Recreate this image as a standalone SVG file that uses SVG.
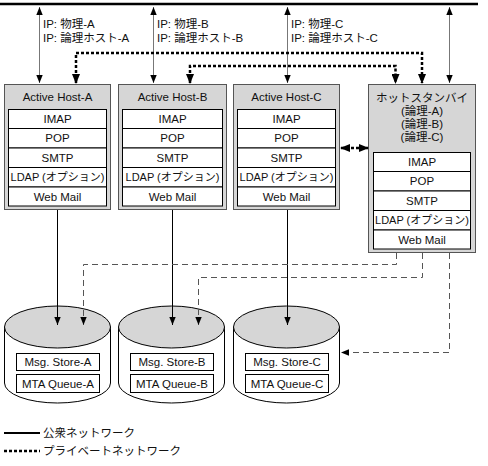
<svg xmlns="http://www.w3.org/2000/svg" width="488" height="466" viewBox="0 0 488 466">
<defs>
<marker id="ah" viewBox="0 0 10 8" refX="10" refY="4" markerWidth="8" markerHeight="6.4" markerUnits="userSpaceOnUse" orient="auto-start-reverse"><path d="M0,0 L10,4 L0,8 Z" fill="#000"/></marker>
<marker id="ahd" viewBox="0 0 10 8" refX="9" refY="4" markerWidth="10" markerHeight="8" markerUnits="userSpaceOnUse" orient="auto-start-reverse"><path d="M0,0 L10,4 L0,8 Z" fill="#000"/></marker>
</defs>
<style>
text{font-family:"Liberation Sans","Noto Sans CJK JP",Arial,sans-serif;font-size:11.5px;fill:#111}
.c{text-anchor:middle}
.l{font-size:11px}
.host{fill:#d6d6d6;stroke:#555;stroke-width:1}
.row{fill:#fff;stroke:#000;stroke-width:1}
.ip{stroke:#777;stroke-width:1;fill:none}
.priv{stroke:#000;stroke-width:2.5;stroke-dasharray:3,2;fill:none}
.sol{stroke:#000;stroke-width:1;fill:none}
.dash{stroke:#555;stroke-width:1;stroke-dasharray:6,4;fill:none}
.cylb{fill:#fff;stroke:#000;stroke-width:1}
.cylt{fill:#d6d6d6;stroke:#000;stroke-width:1}
</style>
<rect width="488" height="466" fill="#fff"/>
<line x1="0" y1="4" x2="478" y2="4" stroke="#000" stroke-width="2.5"/>
<g id="ip-labels">
<text x="43" y="28">IP: 物理-A</text><text x="43" y="42">IP: 論理ホスト-A</text>
<text x="157" y="28">IP: 物理-B</text><text x="157" y="42">IP: 論理ホスト-B</text>
<text x="291" y="28">IP: 物理-C</text><text x="291" y="42">IP: 論理ホスト-C</text>
</g>
<g id="host-a">
<rect class="host" x="4.5" y="84.5" width="106" height="125"/>
<text class="c" x="57.5" y="101">Active Host-A</text>
<rect class="row" x="8.5" y="109.5" width="98" height="19"/><text class="c" x="57.5" y="123">IMAP</text>
<rect class="row" x="8.5" y="128.5" width="98" height="19.5"/><text class="c" x="57.5" y="142">POP</text>
<rect class="row" x="8.5" y="148" width="98" height="19.5"/><text class="c" x="57.5" y="162">SMTP</text>
<rect class="row" x="8.5" y="167.5" width="98" height="19.5"/><text class="c l" x="57.5" y="181">LDAP (オプション)</text>
<rect class="row" x="8.5" y="187" width="98" height="19"/><text class="c" x="57.5" y="200.5">Web Mail</text>
</g>
<g id="host-b">
<rect class="host" x="118.5" y="84.5" width="108" height="125"/>
<text class="c" x="172.5" y="101">Active Host-B</text>
<rect class="row" x="122.5" y="109.5" width="100" height="19"/><text class="c" x="172.5" y="123">IMAP</text>
<rect class="row" x="122.5" y="128.5" width="100" height="19.5"/><text class="c" x="172.5" y="142">POP</text>
<rect class="row" x="122.5" y="148" width="100" height="19.5"/><text class="c" x="172.5" y="162">SMTP</text>
<rect class="row" x="122.5" y="167.5" width="100" height="19.5"/><text class="c l" x="172.5" y="181">LDAP (オプション)</text>
<rect class="row" x="122.5" y="187" width="100" height="19"/><text class="c" x="172.5" y="200.5">Web Mail</text>
</g>
<g id="host-c">
<rect class="host" x="233.5" y="84.5" width="106" height="125"/>
<text class="c" x="286.5" y="101">Active Host-C</text>
<rect class="row" x="237.5" y="109.5" width="98" height="19"/><text class="c" x="286.5" y="123">IMAP</text>
<rect class="row" x="237.5" y="128.5" width="98" height="19.5"/><text class="c" x="286.5" y="142">POP</text>
<rect class="row" x="237.5" y="148" width="98" height="19.5"/><text class="c" x="286.5" y="162">SMTP</text>
<rect class="row" x="237.5" y="167.5" width="98" height="19.5"/><text class="c l" x="286.5" y="181">LDAP (オプション)</text>
<rect class="row" x="237.5" y="187" width="98" height="19"/><text class="c" x="286.5" y="200.5">Web Mail</text>
</g>
<g id="standby">
<rect class="host" x="368.5" y="84.5" width="107" height="168"/>
<text class="c" x="422" y="102">ホットスタンバイ</text>
<text class="c" x="422" y="115">(論理-A)</text>
<text class="c" x="422" y="128">(論理-B)</text>
<text class="c" x="422" y="141">(論理-C)</text>
<rect class="row" x="373.5" y="152.5" width="97" height="19"/><text class="c" x="422" y="166">IMAP</text>
<rect class="row" x="373.5" y="171.5" width="97" height="19.5"/><text class="c" x="422" y="185">POP</text>
<rect class="row" x="373.5" y="191" width="97" height="19.5"/><text class="c" x="422" y="205">SMTP</text>
<rect class="row" x="373.5" y="210.5" width="97" height="19.5"/><text class="c l" x="422" y="224">LDAP (オプション)</text>
<rect class="row" x="373.5" y="230" width="97" height="19"/><text class="c" x="422" y="243.5">Web Mail</text>
</g>
<g id="store-a">
<path class="cylb" d="M4.5,327 V383 A53,20 0 0 0 110.5,383 V327"/>
<ellipse class="cylt" cx="57.5" cy="327" rx="53" ry="21"/>
<rect class="row" x="16.5" y="353.5" width="83" height="17"/><text class="c" x="58" y="366">Msg. Store-A</text>
<rect class="row" x="16.5" y="374.5" width="83" height="18"/><text class="c" x="58" y="387.5">MTA Queue-A</text>
</g>
<g id="store-b">
<path class="cylb" d="M118.5,327 V383 A53,20 0 0 0 224.5,383 V327"/>
<ellipse class="cylt" cx="171.5" cy="327" rx="53" ry="21"/>
<rect class="row" x="130.5" y="353.5" width="83" height="17"/><text class="c" x="172" y="366">Msg. Store-B</text>
<rect class="row" x="130.5" y="374.5" width="83" height="18"/><text class="c" x="172" y="387.5">MTA Queue-B</text>
</g>
<g id="store-c">
<path class="cylb" d="M233.5,327 V383 A53,20 0 0 0 339.5,383 V327"/>
<ellipse class="cylt" cx="286.5" cy="327" rx="53" ry="21"/>
<rect class="row" x="245.5" y="353.5" width="83" height="17"/><text class="c" x="287" y="366">Msg. Store-C</text>
<rect class="row" x="245.5" y="374.5" width="83" height="18"/><text class="c" x="287" y="387.5">MTA Queue-C</text>
</g>
<g id="connectors">
<line class="ip" x1="39.5" y1="7" x2="39.5" y2="83" marker-start="url(#ah)" marker-end="url(#ah)"/>
<line class="ip" x1="153.5" y1="7" x2="153.5" y2="83" marker-start="url(#ah)" marker-end="url(#ah)"/>
<line class="ip" x1="287.5" y1="7" x2="287.5" y2="83" marker-start="url(#ah)" marker-end="url(#ah)"/>
<line class="ip" x1="449.5" y1="7" x2="449.5" y2="83" marker-start="url(#ah)" marker-end="url(#ah)"/>
<path class="priv" d="M76,83 V53 H422 V83" marker-start="url(#ahd)" marker-end="url(#ahd)"/>
<path class="priv" d="M190,83 V66 H395.5 V83" marker-start="url(#ahd)" marker-end="url(#ahd)"/>
<line class="priv" x1="341" y1="148" x2="368" y2="148" marker-start="url(#ahd)" marker-end="url(#ahd)"/>
<line class="sol" x1="57.5" y1="210" x2="57.5" y2="325" marker-end="url(#ah)"/>
<line class="sol" x1="172.5" y1="210" x2="172.5" y2="325" marker-end="url(#ah)"/>
<line class="sol" x1="287.5" y1="210" x2="287.5" y2="325" marker-end="url(#ah)"/>
<path class="dash" d="M396.5,253 V264.5 H83.5 V325" marker-end="url(#ah)"/>
<path class="dash" d="M422.5,253 V277.5 H198.5 V325" marker-end="url(#ah)"/>
<path class="dash" d="M449.5,253 V352.5 H341" marker-end="url(#ah)"/>
</g>
<g id="legend">
<line x1="4" y1="433" x2="40" y2="433" stroke="#000" stroke-width="2"/>
<text x="43" y="437">公衆ネットワーク</text>
<line x1="4" y1="451" x2="40" y2="451" stroke="#000" stroke-width="2.5" stroke-dasharray="3,2"/>
<text x="43" y="455">プライベートネットワーク</text>
</g>
</svg>
